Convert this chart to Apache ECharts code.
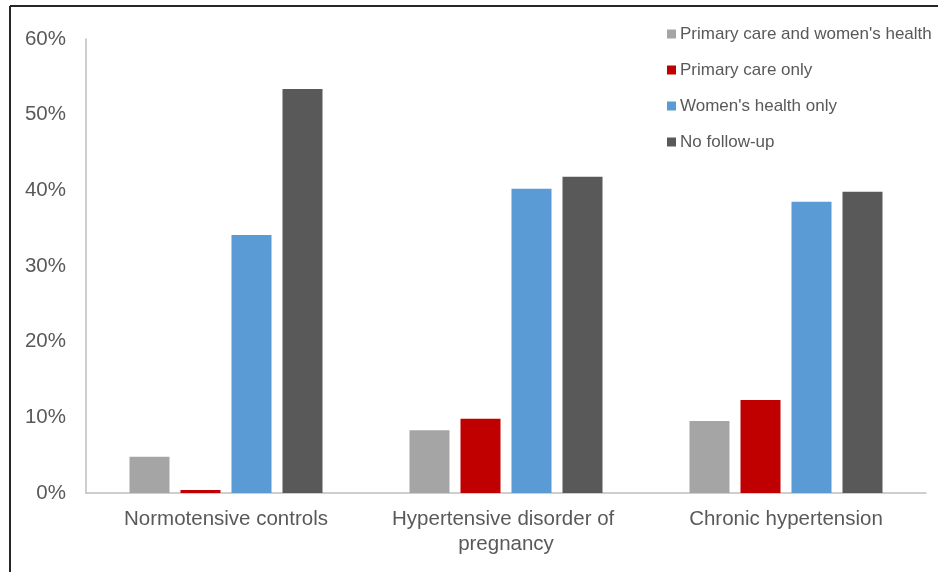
<!DOCTYPE html>
<html>
<head>
<meta charset="utf-8">
<script src="https://cdn.jsdelivr.net/npm/echarts@6/dist/echarts.min.js"></script>
<style>
  html, body { margin: 0; padding: 0; background: #fff; }
  #chart { width: 938px; height: 572px; }
</style>
</head>
<body>
<div id="chart"></div>
<script>
const categories = ["Normotensive controls", "Hypertensive disorder of pregnancy", "Chronic hypertension"];
const seriesNames = ["Primary care and women's health", "Primary care only", "Women's health only", "No follow-up"];
const bothCare = [4.8, 8.3, 9.5];
const primaryOnly = [0.4, 9.8, 12.3];
const womensOnly = [34.1, 40.2, 38.5];
const noFollowUp = [53.4, 41.8, 39.8];
const colors = ["#A5A5A5", "#C00000", "#5B9BD5", "#595959"];

const chart = echarts.init(document.getElementById("chart"), null, { renderer: "canvas" });
const values = [bothCare, primaryOnly, womensOnly, noFollowUp];
const textColor = "#595959";

chart.setOption({
  animation: false,
  grid: { left: 86, right: 12, top: 39, bottom: 79 },
  legend: {
    orient: "vertical",
    left: 662,
    top: 19,
    itemWidth: 9,
    itemHeight: 9,
    itemGap: 16,
    icon: "rect",
    textStyle: { color: textColor, fontSize: 17, fontFamily: "Liberation Sans", lineHeight: 20, padding: [0, 0, 0, -1] },
    data: seriesNames
  },
  xAxis: {
    type: "category",
    data: categories,
    axisLine: { lineStyle: { color: "#BFBFBF", width: 1.5 } },
    axisTick: { show: false },
    axisLabel: {
      color: textColor,
      fontSize: 20.5,
      fontFamily: "Liberation Sans",
      lineHeight: 25,
      margin: 14,
      interval: 0,
      width: 270,
      overflow: "break"
    }
  },
  yAxis: {
    type: "value",
    min: 0,
    max: 60,
    interval: 10,
    axisLine: { show: true, lineStyle: { color: "#BFBFBF", width: 1.5 } },
    axisTick: { show: false },
    splitLine: { show: false },
    axisLabel: {
      color: textColor,
      fontSize: 20.5,
      fontFamily: "Liberation Sans",
      margin: 20,
      formatter: "{value}%"
    }
  },
  series: seriesNames.map((name, i) => ({
    name: name,
    type: "bar",
    data: values[i],
    barWidth: 40,
    barGap: "27.5%",
    itemStyle: { color: colors[i] }
  })),
  graphic: [
    { type: "line", shape: { x1: 10, y1: 6, x2: 938, y2: 6 }, style: { stroke: "#262626", lineWidth: 2 } },
    { type: "line", shape: { x1: 10, y1: 6, x2: 10, y2: 572 }, style: { stroke: "#262626", lineWidth: 2 } }
  ]
});
</script>
</body>
</html>
